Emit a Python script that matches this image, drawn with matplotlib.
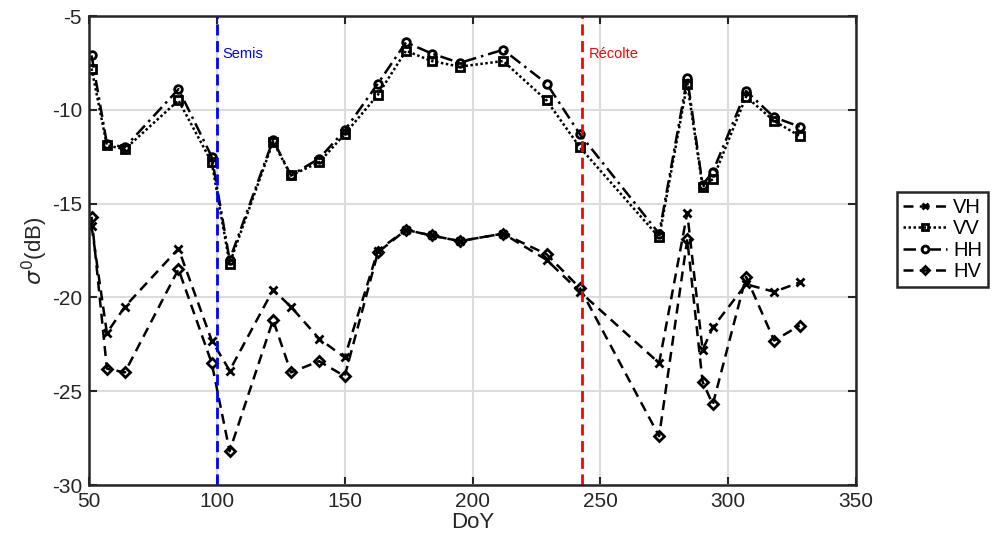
import matplotlib
matplotlib.use("Agg")
import matplotlib.pyplot as plt

plt.rcParams["font.family"] = ["Liberation Sans", "DejaVu Sans"]
plt.rcParams["mathtext.fontset"] = "dejavusans"
plt.rcParams["axes.unicode_minus"] = False

# day of year of each acquisition
doy = [51, 57, 64, 85, 98, 105, 122, 129, 140, 150, 163, 174,
       184, 195, 212, 229, 242, 273, 284, 290, 294, 307, 318, 328]

vh = [-16.2, -21.9, -20.5, -17.4, -22.3, -23.9, -19.6, -20.5, -22.2, -23.2, -17.5, -16.4,
      -16.7, -17.0, -16.6, -18.0, -19.7, -23.5, -15.5, -22.8, -21.6, -19.3, -19.7, -19.2]
vv = [-7.8, -11.9, -12.1, -9.5, -12.8, -18.2, -11.7, -13.5, -12.8, -11.3, -9.2, -6.85,
      -7.4, -7.7, -7.4, -9.5, -12.0, -16.8, -8.6, -14.1, -13.7, -9.3, -10.6, -11.4]
hh = [-7.1, -11.8, -12.0, -8.9, -12.5, -18.0, -11.6, -13.5, -12.6, -11.1, -8.6, -6.4,
      -7.0, -7.5, -6.8, -8.6, -11.3, -16.6, -8.3, -14.0, -13.3, -9.0, -10.4, -10.9]
hv = [-15.7, -23.8, -24.0, -18.5, -23.5, -28.2, -21.2, -24.0, -23.4, -24.2, -17.6, -16.4,
      -16.7, -17.0, -16.6, -17.7, -19.5, -27.4, -16.9, -24.5, -25.7, -18.9, -22.3, -21.5]

semis_doy = 100
recolte_doy = 243

fig = plt.figure(figsize=(9.99, 5.56), dpi=100)
ax = fig.add_axes([89 / 999, 1 - 485 / 556, (856 - 89) / 999, (485 - 16) / 556])

mk = dict(color="black", lw=1.8, ms=5.5, mfc="none", mew=2)
ax.plot(doy, vh, ls=(0, (4, 2.5)), marker="x", label="VH", **mk)
ax.plot(doy, vv, ls=(0, (1, 1)), marker="s", label="VV", **mk)
ax.plot(doy, hh, ls=(0, (5, 2, 1, 2)), marker="o", label="HH", **mk)
ax.plot(doy, hv, ls=(0, (4, 2.5)), marker="D", label="HV", **dict(mk, ms=5))

ax.axvline(semis_doy, color="#0000ff", ls=(0, (4, 2)), lw=2)
ax.axvline(recolte_doy, color="#ff0000", ls=(0, (4, 2)), lw=2)
ax.text(semis_doy + 2, -7.0, "Semis", color="#0000ff", fontsize=10.5, va="center")
ax.text(recolte_doy + 2.5, -7.0, "Récolte", color="#ff0000", fontsize=10.5, va="center")

ax.set_xlim(50, 350)
ax.set_ylim(-30, -5)
ax.set_xticks(range(50, 351, 50))
ax.set_yticks(range(-30, -4, 5))
ax.grid(True, color="#dcdcdc", lw=1.5)
ax.set_axisbelow(True)
ax.tick_params(direction="in", length=6, width=1.5, labelsize=15,
               top=True, right=True, colors="#262626", pad=5)
for s in ax.spines.values():
    s.set_linewidth(1.8)
    s.set_color("#262626")

ax.set_xlabel("DoY", fontsize=16, color="#262626", labelpad=1)
ax.set_ylabel(r"$\sigma^0$(dB)", fontsize=16, color="#262626", labelpad=1)

leg = fig.legend(loc="upper left", bbox_to_anchor=(897 / 999, 1 - 192 / 556),
                 fontsize=14.5, handlelength=2.2, handletextpad=0.3, labelspacing=0.12,
                 borderpad=0.3, borderaxespad=0, fancybox=False, edgecolor="#262626",
                 framealpha=1, markerscale=0.9)
leg.get_frame().set_linewidth(1.8)

fig.savefig("out.png", dpi=100)
